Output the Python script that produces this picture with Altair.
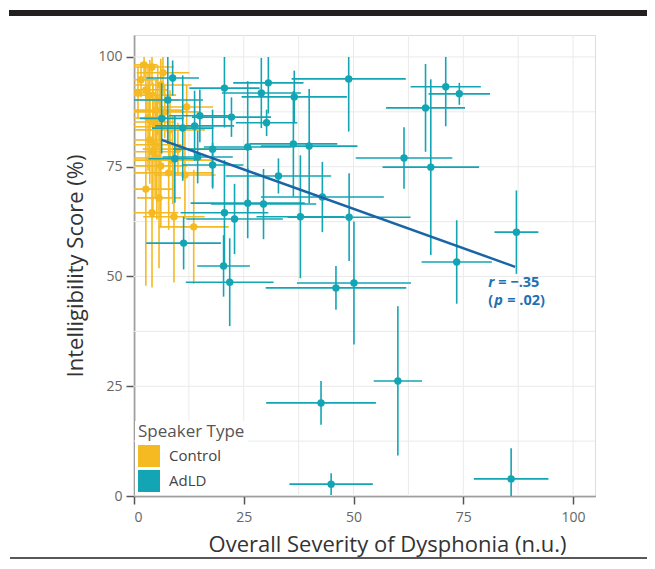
import altair as alt
import pandas as pd

groups = ["Control", "AdLD"]
colors = ["#F5B921", "#13A5B4"]

# Control speakers: mean x, mean y, x error, y error
ctrl_x = [2.3, 4.1, 6.6, 0.9, 2.7, 3.6, 6.1, 12.0, 4.3, 5.9, 5.0, 7.0, 3.2, 8.2, 4.3,
          5.2, 8.8, 6.1, 7.9, 11.6, 2.7, 5.7, 4.1, 9.1, 13.6, 1.6, 5.4, 3.6, 4.8, 10.0]
ctrl_y = [98.2, 97.7, 96.4, 91.8, 92.5, 91.3, 93.6, 88.6, 85.2, 84.1, 87.9, 87.5, 86.1, 83.4, 78.4,
          77.0, 76.5, 75.2, 73.6, 73.1, 69.9, 67.9, 64.5, 63.6, 61.3, 94.8, 90.2, 81.1, 80.0, 79.0]
ctrl_xe = [3, 5, 6, 4, 5, 6, 7, 6, 5, 7, 6, 8, 6, 8, 6,
           7, 9, 6, 10, 7, 6, 5, 6, 7, 8, 4, 5, 5, 6, 8]
ctrl_ye = [3, 4, 5, 6, 5, 8, 6, 5, 9, 10, 7, 6, 12, 9, 15,
           14, 10, 14, 13, 10, 22, 16, 17, 15, 13, 4, 8, 10, 12, 6]

# AdLD speakers
adld_x = [8.8, 7.7, 20.6, 29.0, 30.6, 36.5, 48.9, 74.1, 71.0, 66.4, 61.5, 67.6, 87.1, 73.5, 50.1,
          46.0, 42.6, 60.1, 44.9, 85.9, 22.2, 30.2, 15.0, 17.9, 25.9, 36.3, 39.9, 17.9, 32.9, 25.9,
          29.5, 42.9, 20.6, 22.9, 37.9, 49.0, 11.3, 20.4, 21.8, 11.1, 13.8, 9.3, 14.5, 6.3]
adld_y = [95.2, 90.2, 92.9, 91.8, 94.1, 90.9, 95.0, 91.6, 93.2, 88.4, 77.0, 74.9, 60.1, 53.3, 48.5,
          47.4, 21.2, 26.2, 2.7, 3.9, 86.3, 85.0, 86.6, 79.0, 79.5, 80.2, 79.7, 75.4, 72.9, 66.7,
          66.5, 68.1, 64.5, 63.1, 63.6, 63.5, 57.6, 52.4, 48.7, 83.8, 84.3, 76.8, 77.2, 86.0]
adld_xe = [6, 8, 8, 9, 8, 12, 13, 7, 8, 9, 11, 11, 5, 8, 13,
           16, 12.5, 5.5, 9.5, 8.5, 9, 7, 7, 9, 10, 10, 11, 7, 12, 13,
           12, 14, 10, 11, 10, 14, 8.5, 6, 10, 7, 9, 6, 8, 5]
adld_ye = [4, 10, 9, 8, 7, 6, 12, 2.5, 9, 10, 7, 20, 9.5, 9.5, 14,
           5, 5, 17, 2.5, 7, 4.5, 3, 6, 9, 15, 12, 13, 5, 4, 8,
           8, 8, 12, 8, 14, 10, 6, 7, 10, 12, 8, 10, 6, 8]

# Regression line (AdLD) end points
reg_x = [6.3, 86.8]
reg_y = [81.1, 52.2]

# Annotation anchor
ann_x = [80.7, 80.7]
ann_y = [48.5, 44.4]

grid_vals = [0, 12.5, 25, 37.5, 50, 62.5, 75, 87.5, 100]
tick_vals = [0, 25, 50, 75, 100]

FONT = "Open Sans"


def make_df(name, xs, ys, xe, ye):
    return pd.DataFrame({
        "group": name,
        "x": xs,
        "y": ys,
        "xlo": [max(0, a - b) for a, b in zip(xs, xe)],
        "xhi": [a + b for a, b in zip(xs, xe)],
        "ylo": [max(0, a - b) for a, b in zip(ys, ye)],
        "yhi": [min(100, a + b) for a, b in zip(ys, ye)],
    })


df = pd.concat([make_df("Control", ctrl_x, ctrl_y, ctrl_xe, ctrl_ye),
                make_df("AdLD", adld_x, adld_y, adld_xe, adld_ye)], ignore_index=True)
reg = pd.DataFrame({"x": reg_x, "y": reg_y})
grid = pd.DataFrame({"g": grid_vals})

xscale = alt.Scale(domain=[0, 105], nice=False, zero=False)
yscale = alt.Scale(domain=[0, 105], nice=False, zero=False)

axis_common = dict(values=tick_vals, grid=False, domainColor="#555555", domainWidth=1.5,
                   tickColor="#555555", tickWidth=1.5, tickSize=8, labelFontSize=14,
                   labelColor="#666666", labelFont=FONT, titleFont=FONT, titleFontSize=22,
                   titleColor="#333333", titleFontWeight="normal", labelOverlap=False)
xaxis = alt.Axis(title="Overall Severity of Dysphonia (n.u.)", labelPadding=6, titlePadding=10,
                 titleX=253, titleAlign="center", **axis_common)
yaxis = alt.Axis(title="Intelligibility Score (%)", labelPadding=4, titlePadding=10,
                 **axis_common)


def X(f):
    return alt.X(f, type="quantitative", scale=xscale, axis=xaxis)


def Y(f):
    return alt.Y(f, type="quantitative", scale=yscale, axis=yaxis)


cscale = alt.Scale(domain=groups, range=colors)

base = alt.Chart(df)

vgrid = alt.Chart(grid).mark_rule(color="#eaeaea", strokeWidth=1).encode(x=X("g"))
hgrid = alt.Chart(grid).mark_rule(color="#eaeaea", strokeWidth=1).encode(y=Y("g"))

legend = alt.Legend(title="Speaker Type", orient="bottom-left",
                    symbolType="square", symbolSize=484,
                    symbolStrokeWidth=0, symbolOpacity=1,
                    titleFont=FONT, titleFontSize=17,
                    titleFontWeight="normal", titleColor="#555555",
                    labelFont=FONT, labelFontSize=15,
                    labelColor="#444444", labelOffset=9,
                    rowPadding=3, fillColor="white", padding=3,
                    offset=1, titlePadding=4)


def layers_for(idx):
    name = groups[idx]
    col = colors[idx]
    sub = base.transform_filter(alt.datum.group == name)
    hbar = sub.mark_rule(strokeWidth=1.6, color=col).encode(
        x=X("xlo"), x2="xhi", y=Y("y"))
    vbar = sub.mark_rule(strokeWidth=1.6, color=col).encode(
        x=X("x"), y=Y("ylo"), y2="yhi")
    pts = sub.mark_circle(size=55, opacity=1).encode(
        x=X("x"), y=Y("y"),
        color=alt.Color("group:N", scale=cscale, legend=legend))
    return [hbar, vbar, pts]


reg_line = alt.Chart(reg).mark_line(color="#1B65A6", strokeWidth=2.5).encode(x=X("x"), y=Y("y"))

ann = pd.DataFrame({"x": ann_x, "y": ann_y})
tstyle = dict(align="left", baseline="middle", fontWeight="bold", fontSize=14.5,
              color="#1F70B3", font=FONT)
ann1 = alt.Chart(ann.iloc[[0]])
ann2 = alt.Chart(ann.iloc[[1]])
t_r = ann1.mark_text(text="r", fontStyle="italic", dx=0, **tstyle).encode(x=X("x"), y=Y("y"))
t_r2 = ann1.mark_text(text="= \u2212.35", dx=10, **tstyle).encode(x=X("x"), y=Y("y"))
t_p0 = ann2.mark_text(text="(", dx=0, **tstyle).encode(x=X("x"), y=Y("y"))
t_p = ann2.mark_text(text="p", fontStyle="italic", dx=6, **tstyle).encode(x=X("x"), y=Y("y"))
t_p2 = ann2.mark_text(text="= .02)", dx=19, **tstyle).encode(x=X("x"), y=Y("y"))

# decorative top bar and bottom rule (page frame)
top_bar = alt.Chart(grid.iloc[[0]]).mark_rule(color="#231F20", strokeWidth=6).encode(
    x=alt.value(-125), x2=alt.value(516), y=alt.value(-22))
bottom_rule = alt.Chart(grid.iloc[[0]]).mark_rule(color="#231F20", strokeWidth=1.5).encode(
    x=alt.value(-124), x2=alt.value(514), y=alt.value(523))

chart = alt.layer(
    vgrid, hgrid,
    *layers_for(0),
    *layers_for(1),
    reg_line, t_r, t_r2, t_p0, t_p, t_p2,
    top_bar, bottom_rule,
).properties(
    width=461, height=461,
    autosize=alt.AutoSizeParams(type="none"),
    padding={"left": 126, "top": 27, "right": 52, "bottom": 64},
).configure_view(stroke=None).configure(background="white")

chart.save("out.html", embed_options={"renderer": "svg", "actions": False})
